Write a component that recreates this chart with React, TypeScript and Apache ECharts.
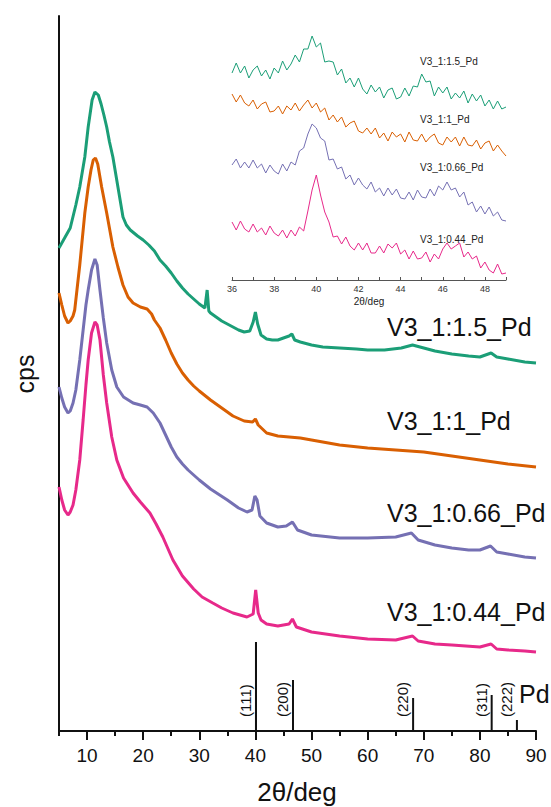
import React, { useEffect, useRef } from "react";
import * as echarts from "echarts";

const FONT = "'Liberation Sans', Arial, Helvetica, sans-serif";

const sampleNames = ["V3_1:1.5_Pd", "V3_1:1_Pd", "V3_1:0.66_Pd", "V3_1:0.44_Pd"];
const sampleColors = ["#1b9e77", "#d95f02", "#7570b3", "#e7298a"];

// Main pattern: [2θ (deg), intensity (a.u., stacked with offsets)]
const main1p5 = [
  [5, 483], [6, 493], [7, 503], [8, 526], [8.7, 544], [9.6, 574], [10.2, 604], [10.9, 631], [11.4, 639],
  [12, 636], [12.5, 627], [13, 616], [13.5, 604], [14, 589], [14.6, 574], [15.5, 544], [16.4, 514], [17, 506],
  [17.7, 501], [19, 495], [20, 491], [21, 486], [22, 480], [23, 471], [24, 465], [25, 458], [26, 450], [27, 443],
  [28, 437], [29, 432], [30, 427], [31, 423], [31.4, 441], [31.7, 420], [32, 418], [33, 414], [34, 410], [35, 407],
  [36, 404], [37, 401], [38, 399], [39, 400], [39.6, 409], [40, 419], [40.4, 407], [41, 396], [42, 392], [43, 391],
  [44, 391], [45, 393], [46, 395], [46.5, 397], [47, 391], [48, 389], [50, 386], [52, 384], [55, 383], [58, 382],
  [60, 381], [63, 381], [66, 383], [68, 386], [70, 383], [72, 380], [75, 377], [78, 375], [80, 374], [82, 378],
  [83, 374], [85, 372], [88, 369], [90, 368],
];
const main1 = [
  [5, 438], [5.5, 426], [6, 415], [6.6, 408], [7, 410], [7.5, 415], [7.8, 421], [8.2, 441], [8.7, 466], [9.6, 518],
  [10.2, 544], [10.7, 561], [11.1, 571], [11.5, 573], [11.9, 567], [12.6, 544], [13.5, 518], [14.6, 484], [15.5, 464],
  [16.4, 446], [17.3, 434], [18.2, 428], [19.5, 424], [20.7, 422], [21.5, 417], [22, 411], [23, 403], [24, 391],
  [25, 378], [26, 367], [27, 358], [28, 351], [29, 345], [30, 340], [32, 331], [34, 323], [36, 315], [38, 310],
  [39.5, 309], [40, 312], [40.5, 306], [42, 298], [44, 295], [46, 294], [48, 293], [50, 291], [55, 286], [60, 283],
  [65, 281], [70, 279], [75, 275], [80, 271], [85, 267], [90, 264],
];
const main0p66 = [
  [5, 344], [5.5, 333], [6, 324], [6.6, 318], [7, 320], [7.5, 328], [8, 341], [8.7, 371], [9.3, 401], [9.8, 426],
  [10.2, 441], [10.8, 461], [11.4, 472], [11.8, 466], [12.3, 441], [12.9, 413], [13.5, 388], [14.4, 361], [15.3, 344],
  [16.5, 334], [18.2, 328], [19.5, 326], [20.7, 324], [21.8, 318], [23, 308], [24, 296], [25, 284], [26, 274],
  [27, 267], [28, 261], [30, 251], [32, 242], [35, 231], [37, 223], [38.5, 219], [39.4, 221], [39.9, 235], [40.3, 231],
  [40.8, 215], [42, 208], [44, 204], [45.5, 205], [46.6, 209], [47.5, 201], [50, 196], [55, 193], [60, 193], [65, 194],
  [67.8, 198], [69, 191], [72, 186], [75, 183], [78, 181], [80, 181], [81.9, 185], [83, 179], [85, 177], [88, 174],
  [90, 173],
];
const main0p44 = [
  [5, 244], [5.5, 231], [6, 221], [6.6, 216], [7, 219], [7.5, 226], [8, 241], [8.7, 271], [9.3, 311], [9.8, 346],
  [10.2, 371], [10.8, 398], [11.4, 409], [11.8, 406], [12.3, 391], [12.9, 356], [13.5, 328], [14.4, 294], [15.3, 271],
  [16.5, 253], [18.2, 238], [19.5, 229], [21.2, 218], [22.3, 207], [23.5, 194], [25.3, 171], [27, 155], [29, 142],
  [30.5, 134], [32.4, 128], [34, 123], [36, 118], [38.5, 114], [39.6, 117], [40.05, 141], [40.5, 118], [41, 111],
  [42, 107], [44, 105], [46, 107], [46.6, 112], [47.3, 104], [50, 99], [55, 95], [60, 92], [65, 91], [68, 95], [69, 90],
  [72, 87], [75, 86], [80, 84], [82, 87], [83, 82], [85, 81], [88, 80], [90, 79],
];

// Pd reference lines
const pdPositions = [40.1, 46.7, 68.1, 82.1, 86.6];
const pdIntensity = [89, 51, 33, 36, 11];
const pdLabels = ["(111)", "(200)", "(220)", "(311)", "(222)"];

const mainTickLabels = [10, 20, 30, 40, 50, 60, 70, 80, 90];

// Inset (36–49°), sampled every 0.2°
const insetStart = 36;
const insetStep = 0.2;
const inset1p5 = [
  207, 217, 207, 214, 202, 210, 214, 204, 210, 201, 212, 207, 219, 210, 216, 225, 218, 231, 231, 244,
  233, 237, 218, 219, 218, 205, 211, 197, 202, 193, 202, 191, 186, 195, 188, 193, 182, 190, 192, 181,
  183, 192, 184, 194, 193, 206, 198, 199, 184, 193, 187, 193, 181, 187, 182, 189, 177, 186, 179, 185,
  174, 180, 171, 179, 171, 173,
];
const inset1 = [
  186, 178, 185, 177, 174, 180, 171, 176, 178, 168, 169, 174, 166, 174, 170, 177, 169, 175, 180, 172,
  177, 168, 172, 160, 165, 158, 163, 153, 157, 159, 149, 147, 152, 146, 152, 142, 147, 139, 148, 143,
  146, 138, 148, 140, 139, 146, 138, 143, 146, 137, 135, 143, 138, 143, 134, 143, 135, 134, 140, 131,
  137, 139, 129, 135, 129, 124,
];
const inset0p66 = [
  115, 121, 112, 118, 112, 120, 112, 116, 107, 115, 109, 106, 116, 109, 118, 115, 129, 132, 146, 156,
  152, 142, 139, 120, 121, 111, 113, 101, 105, 95, 102, 95, 91, 98, 88, 92, 84, 92, 85, 91,
  82, 81, 88, 80, 90, 83, 82, 91, 84, 94, 90, 98, 90, 92, 83, 88, 75, 78, 68, 74,
  66, 73, 64, 68, 60, 59,
];
const inset0p44 = [
  58, 50, 59, 51, 48, 56, 48, 52, 45, 54, 47, 44, 50, 42, 50, 44, 53, 49, 69, 90,
  105, 85, 68, 58, 43, 44, 36, 43, 34, 30, 37, 30, 37, 27, 27, 34, 27, 36, 32, 37,
  26, 30, 21, 29, 21, 22, 28, 18, 26, 21, 31, 37, 31, 34, 37, 23, 28, 21, 24, 12,
  18, 10, 7, 16, 6, 7,
];

const mainData = [main1p5, main1, main0p66, main0p44];
const insetData = [inset1p5, inset1, inset0p66, inset0p44];

const mainLabelY = [327, 421, 513, 612];
const insetLabelY = [61, 119, 167, 239];

export default function App() {
  const ref = useRef<HTMLDivElement>(null);

  useEffect(() => {
    if (!ref.current) return;
    const chart = echarts.init(ref.current, null, { renderer: "svg" });

    const mainSeries = mainData.map((d, i) => ({
      type: "line",
      name: sampleNames[i],
      xAxisIndex: 0,
      yAxisIndex: 0,
      data: d,
      symbol: "none",
      silent: true,
      lineStyle: { color: sampleColors[i], width: 3 },
      z: 2,
    }));

    const insetSeries = insetData.map((d, i) => ({
      type: "line",
      name: sampleNames[i] + " (inset)",
      xAxisIndex: 2,
      yAxisIndex: 1,
      data: d.map((v, k) => [+(insetStart + k * insetStep).toFixed(1), v]),
      symbol: "none",
      silent: true,
      lineStyle: { color: sampleColors[i], width: 1 },
      z: 3,
    }));

    const pdSeries = {
      type: "custom",
      xAxisIndex: 0,
      yAxisIndex: 0,
      silent: true,
      data: pdPositions.map((p, i) => [p, pdIntensity[i]]),
      renderItem: (params: any, api: any) => {
        const x = api.value(0);
        const h = api.value(1);
        const base = api.coord([x, 0]);
        const top = api.coord([x, h]);
        return {
          type: "group",
          children: [
            {
              type: "line",
              shape: { x1: base[0], y1: base[1], x2: top[0], y2: top[1] },
              style: { stroke: "#111", lineWidth: 2 },
            },
            {
              type: "text",
              x: base[0] - 10.5,
              y: base[1] - 14,
              rotation: Math.PI / 2,
              style: {
                text: pdLabels[params.dataIndex],
                fontSize: 15,
                fontFamily: FONT,
                fill: "#111",
                align: "left",
                verticalAlign: "middle",
              },
            },
          ],
        };
      },
      z: 2,
    };

    const graphics: any[] = [];
    sampleNames.forEach((n, i) => {
      graphics.push({
        type: "text",
        left: undefined,
        x: 387,
        y: mainLabelY[i],
        style: { text: n, fontSize: 25, fontFamily: FONT, fill: "#111", align: "left", verticalAlign: "middle" },
        silent: true,
      });
      graphics.push({
        type: "text",
        x: 420,
        y: insetLabelY[i],
        style: { text: n, fontSize: 10, fontFamily: FONT, fill: "#222", align: "left", verticalAlign: "middle" },
        silent: true,
        z: 10,
      });
    });
    graphics.push({
      type: "text",
      x: 519,
      y: 694,
      style: { text: "Pd", fontSize: 25, fontFamily: FONT, fill: "#111", align: "left", verticalAlign: "middle" },
      silent: true,
    });
    graphics.push({
      type: "text",
      x: 297,
      y: 792,
      style: { text: "2θ/deg", fontSize: 26, fontFamily: FONT, fill: "#111", align: "center", verticalAlign: "middle" },
      silent: true,
    });
    graphics.push({
      type: "text",
      x: 25,
      y: 374,
      rotation: Math.PI / 2,
      style: { text: "cps", fontSize: 25, fontFamily: FONT, fill: "#111", align: "center", verticalAlign: "middle" },
      silent: true,
    });
    graphics.push({
      type: "text",
      x: 369,
      y: 301,
      style: { text: "2θ/deg", fontSize: 10, fontFamily: FONT, fill: "#222", align: "center", verticalAlign: "middle" },
      silent: true,
    });

    const option: any = {
      animation: false,
      backgroundColor: "#ffffff",
      grid: [
        { left: 59, right: 15, top: 16, height: 715 },
        { left: 232, right: 45, top: 15, height: 265 },
      ],
      xAxis: [
        {
          gridIndex: 0,
          type: "value",
          min: 5,
          max: 90,
          interval: 5,
          position: "bottom",
          axisLine: { show: true, onZero: false, lineStyle: { color: "#111", width: 2 } },
          axisTick: { show: true, length: 5, lineStyle: { color: "#111", width: 2 } },
          axisLabel: { show: false },
          splitLine: { show: false },
        },
        {
          gridIndex: 0,
          type: "value",
          min: 5,
          max: 90,
          position: "bottom",
          axisLine: { show: false, onZero: false },
          axisTick: { show: true, length: 9, customValues: mainTickLabels, lineStyle: { color: "#111", width: 2 } },
          axisLabel: {
            show: true,
            customValues: mainTickLabels,
            fontSize: 19,
            fontFamily: FONT,
            color: "#111",
            margin: 15,
          },
          splitLine: { show: false },
        },
        {
          gridIndex: 1,
          type: "value",
          min: 36,
          max: 49,
          interval: 1,
          position: "bottom",
          axisLine: { show: true, onZero: false, lineStyle: { color: "#555", width: 1 } },
          axisTick: { show: true, inside: true, length: 3, lineStyle: { color: "#555", width: 1 } },
          axisLabel: {
            show: true,
            fontSize: 9,
            fontFamily: FONT,
            color: "#333",
            margin: 4,
            formatter: (v: number) => (v % 2 === 0 ? String(v) : ""),
          },
          splitLine: { show: false },
        },
      ],
      yAxis: [
        {
          gridIndex: 0,
          type: "value",
          min: 0,
          max: 715,
          axisLine: { show: true, onZero: false, lineStyle: { color: "#111", width: 2 } },
          axisTick: { show: false },
          axisLabel: { show: false },
          splitLine: { show: false },
        },
        {
          gridIndex: 1,
          type: "value",
          min: 0,
          max: 265,
          show: false,
          splitLine: { show: false },
        },
      ],
      series: [...mainSeries, pdSeries, ...insetSeries],
      graphic: graphics,
    };

    chart.setOption(option);
    return () => chart.dispose();
  }, []);

  return (
    <div
      ref={ref}
      style={{ position: "fixed", left: 0, top: 0, width: 551, height: 807, background: "#fff" }}
    />
  );
}
